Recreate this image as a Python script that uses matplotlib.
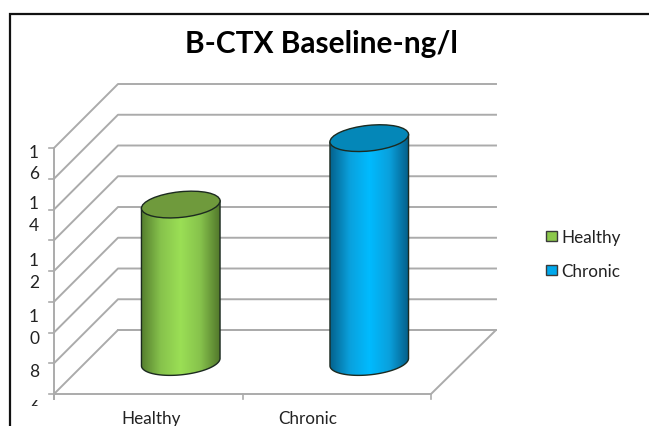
import numpy as np
import matplotlib
matplotlib.use("Agg")
import matplotlib.pyplot as plt
from matplotlib.colors import LinearSegmentedColormap
from matplotlib.patches import Ellipse, Patch, PathPatch
from matplotlib.path import Path
from matplotlib.transforms import Bbox

plt.rcParams['font.family'] = ['Lato', 'DejaVu Sans']

categories = ["Healthy", "Chronic"]
values = [12.4, 15.1]
grid_values = [6, 7.25, 8.5, 9.75, 11, 12.25, 13.5, 14.75, 16]

# tick labels are wrapped by the narrow axis, like in the original
y_tick_labels = ["6", "8", "1\n0", "1\n2", "1\n4", "1\n6"]
y_tick_label_pos = [5.47, 6.92, 8.74, 11.0, 13.3, 15.41]

side_colors = [["#527a2c", "#86c24c", "#9bdf55", "#86c24c", "#50752a"],
               ["#045f8a", "#0aa0dc", "#00bbff", "#0aa0dc", "#045a84"]]
top_colors = ["#6f9a3c", "#0487b8"]
legend_colors = ["#8cc84b", "#00a8ec"]

# the fake 3d box in pixels
LEFT, RIGHT = 54, 431
FLOOR = 395
DEPTH = 64
STEP = 30.75 / 1.25
GRID = "#ababab"


def y_of(v):
    return FLOOR - (v - 6) * STEP


fig = plt.figure(figsize=(6.49, 4.27), dpi=100)
ax = fig.add_axes([0, 0, 1, 1])
ax.set_xlim(0, 649)
ax.set_ylim(427, 0)
ax.axis("off")

# chart border, the picture cuts it off on the right and the bottom
ax.plot([9.5, 9.5, 649], [427, 14.5, 14.5], color="#111111", lw=1.6, solid_joinstyle="miter")

# floor
ax.plot([LEFT + DEPTH, RIGHT + DEPTH + 1, RIGHT, LEFT], [FLOOR - DEPTH, FLOOR - DEPTH, FLOOR, FLOOR],
        color=GRID, lw=1.4)

# walls
for v in grid_values:
    y = y_of(v)
    ax.plot([LEFT, LEFT + DEPTH, RIGHT + DEPTH + 1], [y, y - DEPTH, y - DEPTH], color=GRID, lw=1.4)
    ax.plot([LEFT - 5, LEFT], [y, y], color=GRID, lw=1.2)
ax.plot([LEFT, LEFT], [y_of(grid_values[0]) + 5, y_of(grid_values[-1])], color=GRID, lw=1.4)

# category ticks
n = len(categories)
for i in range(n + 1):
    x = LEFT + (RIGHT - LEFT) * i / n
    ax.plot([x, x], [FLOOR, FLOOR + 5], color=GRID, lw=1.2)

clip = Bbox([[0, 427 - 407], [649, 427]])
for lab, v in zip(y_tick_labels, y_tick_label_pos):
    t = ax.text(34, y_of(v), lab, ha="center", va="center",
                fontsize=12.5, color="#222222", linespacing=1.45)
    t.set_clip_box(clip)
    t.set_clip_on(True)

for i, cat in enumerate(categories):
    ax.text([151, 308][i], 419.5, cat, ha="center", va="center", fontsize=12.3, color="#222222")

# cylinders
half_w = 39.5
half_h = 12.8
tilt = -6
t = np.linspace(0, np.pi, 60)
for i, v in enumerate(values):
    cx = LEFT + (RIGHT - LEFT) * (i + 0.5) / n + DEPTH / 2 + 0.5
    top = y_of(v) - DEPTH / 2
    bottom = FLOOR - DEPTH / 2
    # lower half of the ellipse, tilted
    ex = half_w * np.cos(t)
    ey = half_h * np.sin(t)
    rad = np.deg2rad(tilt)
    rx = ex * np.cos(rad) - ey * np.sin(rad)
    ry = ex * np.sin(rad) + ey * np.cos(rad)
    lower = np.column_stack([cx + rx, bottom + ry])
    upper = np.array([[cx + rx[-1], top + ry[-1]], [cx + rx[0], top + ry[0]]])
    body = np.vstack([lower, upper])
    outline = Path(np.vstack([body, body[0]]), closed=True)
    patch = PathPatch(outline, fc="none", ec="#1c2a20", lw=1.0, zorder=4)
    ax.add_patch(patch)
    cmap = LinearSegmentedColormap.from_list("side", side_colors[i])
    img = ax.imshow(np.linspace(0, 1, 128)[None, :], cmap=cmap, aspect="auto",
                    extent=[cx - half_w - 1, cx + half_w + 1, bottom + 20, top - 20], zorder=3)
    img.set_clip_path(patch)
    ax.add_patch(Ellipse((cx, top), 2 * half_w, 2 * half_h, angle=tilt, fc=top_colors[i],
                         ec="#1c2a20", lw=1.0, zorder=5))

# imshow resets the limits
ax.set_xlim(0, 649)
ax.set_ylim(427, 0)

ax.text(321, 44, "B-CTX Baseline-ng/l", ha="center", va="center", fontsize=21.5,
        fontweight="bold", color="black")

handles = [Patch(fc=c, ec="#3a3a3a", lw=1.0) for c in legend_colors]
ax.legend(handles, categories, loc="center left", bbox_to_anchor=(531 / 649, 1 - 255 / 427),
          frameon=False, fontsize=12.3, handlelength=0.6, handleheight=0.6, handletextpad=0.3,
          labelspacing=1.05, labelcolor="#222222")

fig.savefig("out.png", dpi=100)
